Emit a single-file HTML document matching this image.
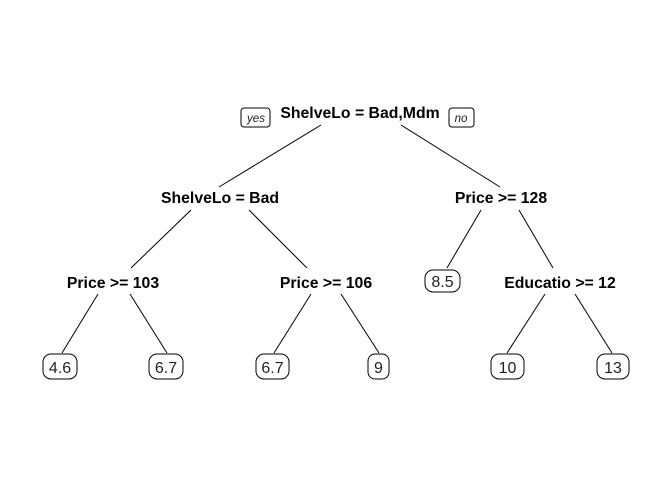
<!DOCTYPE html>
<html><head><meta charset="utf-8"><style>
html,body{margin:0;padding:0;background:#fff;}
svg{display:block}
.b{font-family:"Liberation Sans",sans-serif;font-weight:bold;font-size:15.8px;fill:#000;text-anchor:middle}
.l{font-family:"Liberation Sans",sans-serif;font-size:16px;fill:#222;text-anchor:middle}
.y{font-family:"Liberation Sans",sans-serif;font-style:italic;font-size:11.5px;fill:#222;text-anchor:middle}
line,rect{stroke:#000;stroke-width:1;fill:none}
</style></head><body>
<svg width="672" height="480" viewBox="0 0 672 480">
<rect x="241" y="108" width="29" height="19" rx="3"/>
<text class="y" x="256" y="122">yes</text>
<rect x="449" y="108" width="25" height="19" rx="3"/>
<text class="y" x="461" y="122">no</text>
<text class="b" x="360" y="118">ShelveLo = Bad,Mdm</text>
<line x1="321" y1="125" x2="219" y2="187"/>
<line x1="401" y1="125" x2="500" y2="187"/>
<text class="b" x="220" y="203">ShelveLo = Bad</text>
<text class="b" x="501" y="203">Price &gt;= 128</text>
<line x1="191" y1="210" x2="131" y2="268"/>
<line x1="249" y1="210" x2="307" y2="268"/>
<line x1="481" y1="210" x2="447" y2="268"/>
<line x1="519" y1="210" x2="553" y2="268"/>
<text class="b" x="113" y="288">Price &gt;= 103</text>
<text class="b" x="326" y="288">Price &gt;= 106</text>
<text class="b" x="560" y="288">Educatio &gt;= 12</text>
<rect x="425" y="270" width="35" height="22" rx="8"/>
<text class="l" x="442.5" y="287">8.5</text>
<line x1="98" y1="294" x2="62" y2="353"/>
<line x1="130" y1="294" x2="167" y2="353"/>
<line x1="311" y1="294" x2="274" y2="353"/>
<line x1="341" y1="294" x2="379" y2="353"/>
<line x1="545" y1="294" x2="507" y2="353"/>
<line x1="575" y1="294" x2="612" y2="353"/>
<rect x="43" y="354" width="34" height="25" rx="8"/><text class="l" x="60" y="373">4.6</text>
<rect x="149" y="354" width="34" height="25" rx="8"/><text class="l" x="166" y="373">6.7</text>
<rect x="256" y="354" width="33" height="25" rx="8"/><text class="l" x="272.5" y="373">6.7</text>
<rect x="368" y="354" width="21" height="25" rx="7"/><text class="l" x="378.5" y="373">9</text>
<rect x="491" y="354" width="33" height="25" rx="8"/><text class="l" x="507.5" y="373">10</text>
<rect x="597" y="354" width="32" height="25" rx="8"/><text class="l" x="613" y="373">13</text>
</svg>
</body></html>
